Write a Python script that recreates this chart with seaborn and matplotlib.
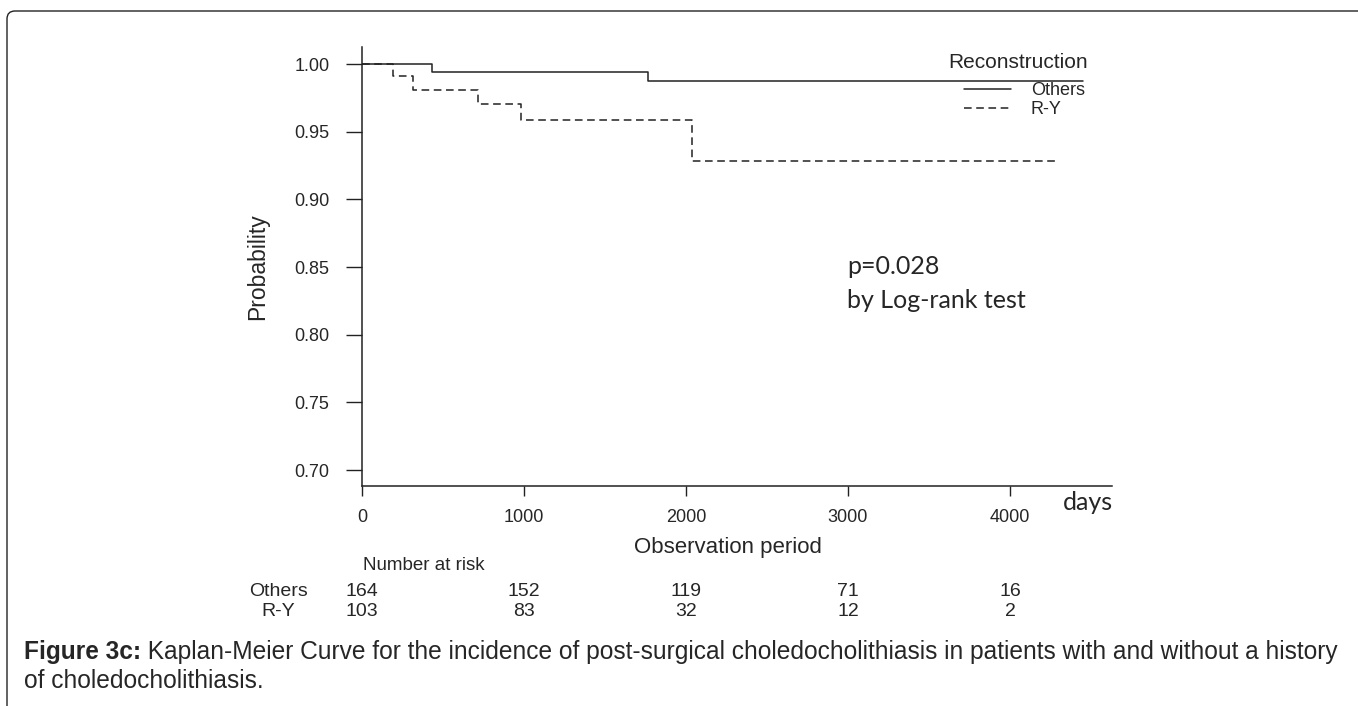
import numpy as np
import pandas as pd
import matplotlib
matplotlib.use("Agg")
import matplotlib.pyplot as plt
import matplotlib.transforms as mtransforms
from matplotlib.patches import FancyBboxPatch
import seaborn as sns

# ---- data ----
others_time = [0, 432, 1765, 4450]
others_surv = [1.0, 0.9941, 0.9874, 0.9874]
ry_time = [0, 191, 315, 716, 981, 2037, 4296]
ry_surv = [1.0, 0.9914, 0.9806, 0.9704, 0.9588, 0.9281, 0.9281]
groups = ["Others", "R-Y"]
risk_times = [0, 1000, 2000, 3000, 4000]
risk_others = [164, 152, 119, 71, 16]
risk_ry = [103, 83, 32, 12, 2]
y_ticks = [0.70, 0.75, 0.80, 0.85, 0.90, 0.95, 1.00]
x_ticks = [0, 1000, 2000, 3000, 4000]

df = pd.concat([
    pd.DataFrame({"time": others_time, "surv": others_surv, "group": "Others"}),
    pd.DataFrame({"time": ry_time, "surv": ry_surv, "group": "R-Y"}),
], ignore_index=True)

sns.set_style("white")
plt.rcParams["font.family"] = ["Liberation Sans", "DejaVu Sans"]

W, H = 1358, 706
fig = plt.figure(figsize=(W / 100, H / 100), dpi=100)

def fx(px):
    return px / W

def fy(py):
    return 1 - py / H

ax = fig.add_axes([fx(362), fy(485.7), fx(1112) - fx(362), fy(47) - fy(485.7)])

sns.lineplot(data=df, x="time", y="surv", style="group", style_order=groups,
             dashes={"Others": "", "R-Y": (5, 3)}, color="#222222",
             linewidth=1.1, drawstyle="steps-post", estimator=None, sort=False,
             ax=ax)

ax.set_xlim(0, 4630)
ax.set_ylim(0.6884, 1.0126)
ax.set_xticks(x_ticks)
ax.set_xticklabels([str(t) for t in x_ticks])
ax.set_yticks(y_ticks)
ax.set_yticklabels([f"{v:.2f}" for v in y_ticks])
for s in ["top", "right"]:
    ax.spines[s].set_visible(False)
for s in ["left", "bottom"]:
    ax.spines[s].set_linewidth(1.1)
    ax.spines[s].set_color("#222222")
ax.tick_params(axis="y", direction="out", length=11.5, width=1.0, pad=12,
               labelsize=13, color="#222222", left=True)
ax.tick_params(axis="x", direction="out", length=7, width=1.0, pad=10,
               labelsize=13, color="#222222", bottom=True)
ax.set_xlabel("")
ax.set_ylabel("")

# axis titles
fig.text(fx(258), fy(267), "Probability", rotation=90, ha="center", va="center",
         fontsize=16.5)
fig.text(fx(728), fy(547), "Observation period", ha="center", va="center",
         fontsize=16)
fig.text(fx(1088), fy(503), "days", ha="center", va="center", fontsize=18,
         family=["Lato", "DejaVu Sans"])

# p value text
fig.text(fx(847), fy(267), "p=0.028", ha="left", va="center", fontsize=18,
         family=["Lato", "DejaVu Sans"])
fig.text(fx(847), fy(301), "by Log-rank test", ha="left", va="center",
         fontsize=18, family=["Lato", "DejaVu Sans"])

# legend
handles, labels = ax.get_legend_handles_labels()
hl = [(h, l) for h, l in zip(handles, labels) if l in groups]
leg = ax.legend([h for h, _ in hl], [l for _, l in hl],
                frameon=False, loc="upper right",
                bbox_to_anchor=(fx(1094), fy(73)), bbox_transform=fig.transFigure,
                fontsize=13, handlelength=2.6,
                handletextpad=1.1, labelspacing=0.12, borderpad=0)
fig.text(fx(1088), fy(63), "Reconstruction", ha="right", va="center",
         fontsize=15)

# number at risk table
trans = mtransforms.blended_transform_factory(ax.transData, fig.transFigure)
fig.text(fx(363), fy(566), "Number at risk", ha="left", va="center", fontsize=13.5)
for name, vals, ypx in [("Others", risk_others, 592), ("R-Y", risk_ry, 611)]:
    fig.text(fx(278), fy(ypx), name, ha="center", va="center", fontsize=14)
    for t, v in zip(risk_times, vals):
        ax.text(t, fy(ypx), str(v), transform=trans, ha="center", va="center",
                fontsize=14, clip_on=False)

# caption (font size fitted so that the first line spans the reference width)
renderer = fig.canvas.get_renderer()
line1 = ("Kaplan-Meier Curve for the incidence of post-surgical choledocholithiasis "
         "in patients with and without a history")
fs0 = 13.0
tb = fig.text(0, 0, "Figure 3c:", fontsize=fs0, fontweight="bold")
tr = fig.text(0, 0, " " + line1, fontsize=fs0)
wtot = tb.get_window_extent(renderer).width + tr.get_window_extent(renderer).width
tb.remove()
tr.remove()
fs = fs0 * (1338 - 24) / wtot
b = fig.text(fx(24), fy(652), "Figure 3c:", ha="left", va="center",
             fontsize=fs, fontweight="bold")
bb = b.get_window_extent(renderer=renderer)
fig.text(bb.x1 / W, fy(652), " " + line1, ha="left", va="center", fontsize=fs)
fig.text(fx(24), fy(681), "of choledocholithiasis.", ha="left", va="center",
         fontsize=fs)

# outer rounded frame
frame = FancyBboxPatch((0.07, -0.5), 14.5, 7.45,
                       boxstyle="round,pad=0,rounding_size=0.08",
                       transform=fig.dpi_scale_trans, fill=False,
                       edgecolor="#222222", linewidth=1.0)
fig.patches.append(frame)

fig.savefig("out.png", dpi=100)
